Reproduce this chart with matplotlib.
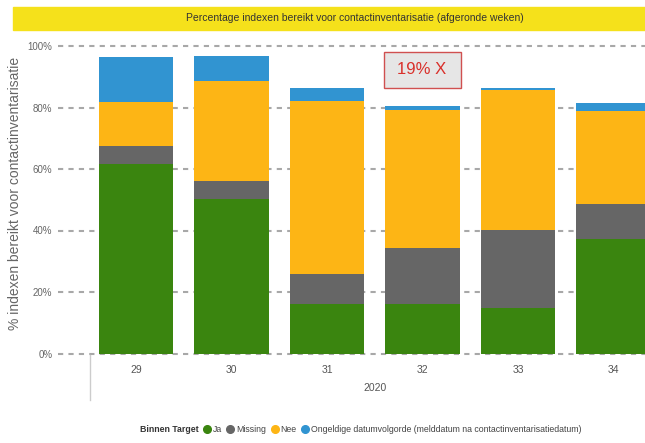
import matplotlib.pyplot as plt
from matplotlib.lines import Line2D
from matplotlib.patches import Rectangle

weeks = ["29", "30", "31", "32", "33", "34"]
ja = [61.6, 50.2, 16.0, 16.0, 14.8, 37.2]
missing = [6.0, 5.8, 9.8, 18.4, 25.4, 11.4]
nee = [14.3, 32.5, 56.4, 44.7, 45.6, 30.3]
ongeldig = [14.4, 8.3, 4.0, 1.3, 0.6, 2.6]

series_names = ["Ja", "Missing", "Nee",
                "Ongeldige datumvolgorde (melddatum na contactinventarisatiedatum)"]
series_colors = ["#3a850f", "#666666", "#fdb515", "#3194d1"]
y_ticks = [0, 20, 40, 60, 80, 100]

plt.rcParams["font.family"] = ["Liberation Sans", "DejaVu Sans"]

W, H = 645, 443
fig = plt.figure(figsize=(W / 100, H / 100), dpi=100)

# plot area in pixels: x 58..645, y 46 (100%) .. 353.5 (0%)
ax = fig.add_axes([58 / W, (H - 353.5) / H, 1 - 58 / W, (353.5 - 46) / H])

x = list(range(len(weeks)))
bottom = [0.0] * len(weeks)
for vals, color in zip([ja, missing, nee, ongeldig], series_colors):
    ax.bar(x, vals, width=0.785, bottom=bottom, color=color, zorder=2)
    bottom = [b + v for b, v in zip(bottom, vals)]

ax.set_ylim(0, 100)
ax.set_xlim(-0.817, 5.33)
ax.set_yticks(y_ticks)
ax.set_yticklabels([f"{t}%" for t in y_ticks], fontsize=7, color="#666666")
ax.set_xticks(x)
ax.set_xticklabels(weeks, fontsize=7.5, color="#555555")
ax.tick_params(length=0, pad=4)
ax.tick_params(axis="x", pad=8)
for t in y_ticks:
    ax.axhline(t, color="#a8a8a8", lw=1.5, ls=(0, (2.5, 2.5)), zorder=1, clip_on=False)
for s in ax.spines.values():
    s.set_visible(False)

ax.set_ylabel("% indexen bereikt voor contactinventarisatie", fontsize=10,
              color="#666666")
ax.yaxis.set_label_coords(-36 / 587, 0.52)

# category group line and year label
fig.add_artist(Line2D([90 / W, 90 / W], [(H - 355) / H, (H - 400) / H],
                      color="#cccccc", lw=1))
fig.text(375 / W, (H - 388) / H, "2020", fontsize=7.5, color="#555555",
         ha="center", va="center")

# title banner
fig.add_artist(Rectangle((13 / W, (H - 30) / H), 1 - 13 / W, 23 / H,
                         color="#f5e11b", transform=fig.transFigure, zorder=0))
fig.text(355 / W, (H - 18) / H,
         "Percentage indexen bereikt voor contactinventarisatie (afgeronde weken)",
         fontsize=7.5, color="#333333", ha="center", va="center")

# annotation box
fig.add_artist(Rectangle((384 / W, (H - 88) / H), 77 / W, 36 / H,
                         facecolor="#e6e6e6", edgecolor="#d05050", lw=1,
                         transform=fig.transFigure, zorder=5))
fig.text(422 / W, (H - 70) / H, "19% X", fontsize=12, color="#d9302b",
         ha="center", va="center", zorder=6)

# legend
fig.text(140 / W, (H - 430) / H, "Binnen Target", fontsize=6.3,
         color="#333333", ha="left", va="center", weight="bold")
handles = [Line2D([], [], marker="o", ls="", markersize=5.5, color=c)
           for c in series_colors]
fig.legend(handles, series_names, loc="center left",
           bbox_to_anchor=(198 / W, (H - 430) / H), ncol=4, frameon=False,
           fontsize=6.3, handletextpad=0.15, columnspacing=0.5,
           handlelength=1.0, borderpad=0, labelcolor="#444444")

fig.savefig("out.png", dpi=100)
